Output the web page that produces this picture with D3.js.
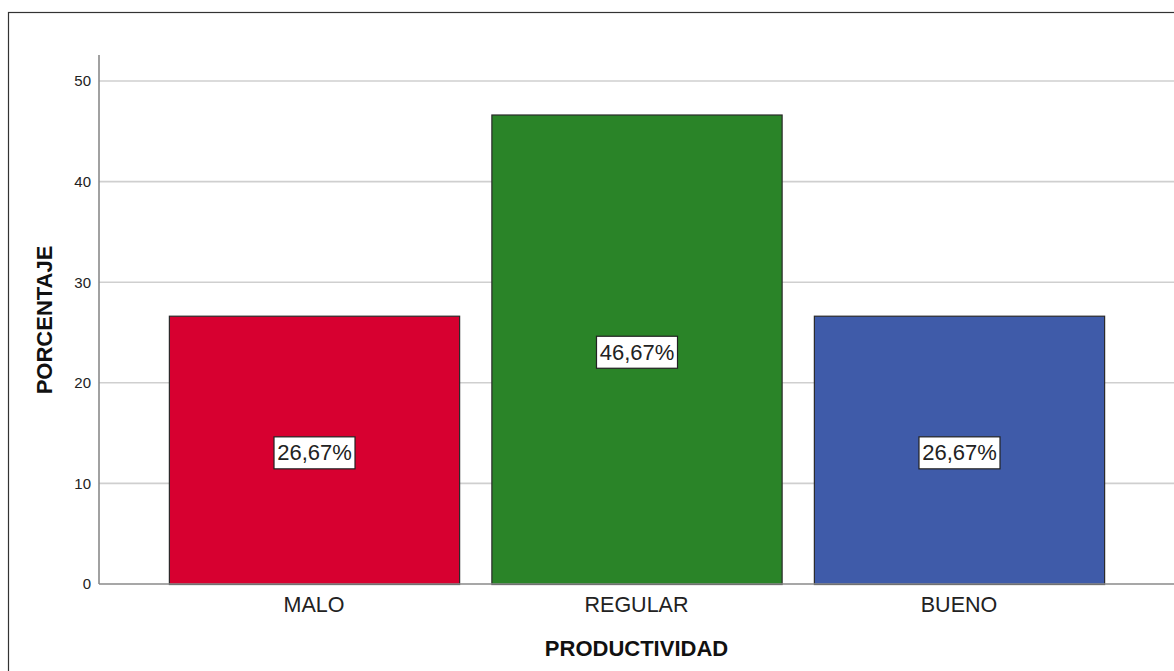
<!DOCTYPE html>
<html>
<head>
<meta charset="utf-8">
<script src="https://cdn.jsdelivr.net/npm/d3@7"></script>
<style>
  html, body { margin: 0; padding: 0; background: #fff; }
  svg { display: block; }
</style>
</head>
<body>
<svg id="chart" width="1174" height="671"></svg>
<script>
const categories = ["MALO", "REGULAR", "BUENO"];
const values = [26.67, 46.67, 26.67];
const valueLabels = ["26,67%", "46,67%", "26,67%"];
const barColors = ["#d70030", "#2a8428", "#3f5ba9"];
const yTicks = [0, 10, 20, 30, 40, 50];

(function () {
const svg = d3.select("#chart");
const W = 1174, H = 671;
const mLeft = 99, mRight = 1174, mTop = 55, mBottom = 584;
const FONT = "Liberation Sans, Arial, sans-serif";

svg.append("rect").attr("x", 8.5).attr("y", 12.5).attr("width", W).attr("height", H)
  .attr("fill", "#fff").attr("stroke", "#333").attr("stroke-width", 1.2);

const y = d3.scaleLinear().domain([0, 50]).range([mBottom, 81]);
const x = d3.scaleBand().domain(categories).range([mLeft, mRight])
  .paddingInner(0.1).paddingOuter(0.2167);

// gridlines
svg.append("g").selectAll("line").data(yTicks.filter(d => d > 0)).join("line")
  .attr("x1", mLeft).attr("x2", mRight)
  .attr("y1", d => y(d)).attr("y2", d => y(d))
  .attr("stroke", "#cfcfcf").attr("stroke-width", 1.6);

// y axis
const yAxis = d3.axisLeft(y).tickValues(yTicks).tickSize(0).tickPadding(8);
const gy = svg.append("g").attr("transform", `translate(${mLeft},0)`).call(yAxis);
gy.select(".domain").remove();
gy.selectAll("text").attr("font-family", FONT)
  .attr("font-size", 15).attr("fill", "#222");

svg.append("line").attr("x1", mLeft).attr("x2", mLeft).attr("y1", mTop).attr("y2", mBottom)
  .attr("stroke", "#8a8a8a").attr("stroke-width", 1.6);

// bars
svg.append("g").selectAll("rect").data(values).join("rect")
  .attr("x", (d, i) => x(categories[i]) + 0.5)
  .attr("y", d => y(d) + 0.5)
  .attr("width", x.bandwidth())
  .attr("height", d => y(0) - y(d))
  .attr("fill", (d, i) => barColors[i])
  .attr("stroke", "#2a2a2a").attr("stroke-width", 1.2);

// x axis line
svg.append("line").attr("x1", mLeft).attr("x2", mRight).attr("y1", mBottom).attr("y2", mBottom)
  .attr("stroke", "#8a8a8a").attr("stroke-width", 1.6);

// x axis labels
const xAxis = d3.axisBottom(x).tickSize(0).tickPadding(13);
const gx = svg.append("g").attr("transform", `translate(0,${mBottom})`).call(xAxis);
gx.select(".domain").remove();
gx.selectAll("text").attr("font-family", FONT)
  .attr("font-size", 21.5).attr("fill", "#222");

// value labels
const lbl = svg.append("g").selectAll("g").data(values).join("g")
  .attr("transform", (d, i) => `translate(${x(categories[i]) + x.bandwidth() / 2 + 0.5},${y(d / 2) + 2.5})`);
lbl.append("rect").attr("x", -40.5).attr("y", -15.5).attr("width", 81).attr("height", 32)
  .attr("fill", "#fff").attr("stroke", "#222").attr("stroke-width", 1.2);
lbl.append("text").text((d, i) => valueLabels[i])
  .attr("text-anchor", "middle").attr("dy", "0.36em")
  .attr("font-family", FONT)
  .attr("font-size", 22).attr("fill", "#222");

// axis titles
svg.append("text").text("PRODUCTIVIDAD")
  .attr("x", (mLeft + mRight) / 2).attr("y", 656).attr("text-anchor", "middle")
  .attr("font-family", FONT)
  .attr("font-weight", "bold").attr("font-size", 22).attr("fill", "#111");

svg.append("text").text("PORCENTAJE")
  .attr("transform", `translate(52,320) rotate(-90)`).attr("text-anchor", "middle")
  .attr("font-family", FONT)
  .attr("font-weight", "bold").attr("font-size", 22).attr("fill", "#111");
})();
</script>
</body>
</html>
